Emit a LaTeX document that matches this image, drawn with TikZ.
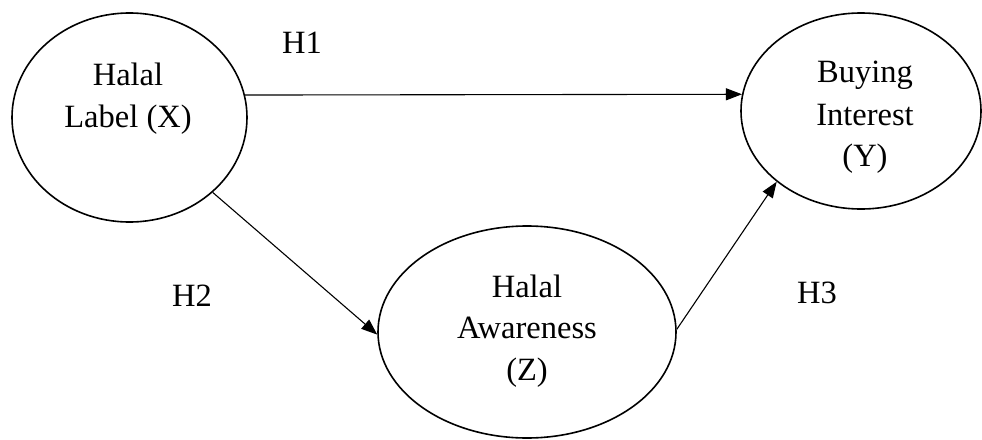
\documentclass[tikz,border=0pt]{standalone}
\usepackage{fontspec}
\setmainfont{Liberation Serif}
\usetikzlibrary{shapes.geometric,arrows.meta}
\tikzset{
  var/.style={draw, ellipse, line width=1.6pt, inner sep=0pt},
  txt/.style={anchor=base, inner sep=0pt, font=\fontsize{32.5}{38}\selectfont},
  path/.style={draw, line width=1.1pt, -{Triangle[length=16pt,width=12pt]}}
}
\begin{document}
\begin{tikzpicture}[x=1pt,y=-1pt]
\useasboundingbox (0,0) rectangle (982,439);
\node[var, minimum width=235pt, minimum height=209pt] (X) at (129.5,117.5) {};
\node[var, minimum width=240pt, minimum height=196pt] (Y) at (861,111) {};
\node[var, minimum width=298pt, minimum height=212pt] (Z) at (527,332) {};
\node[txt] (x1) at (128,85) {Halal};
\node[txt] (x2) at (128,127) {Label (X)};
\node[txt] (y1) at (865,82) {Buying};
\node[txt] (y2) at (865,125) {Interest};
\node[txt] (y3) at (865,166) {(Y)};
\node[txt] (z1) at (527,297) {Halal};
\node[txt] (z2) at (527,338) {Awareness};
\node[txt] (z3) at (527,380) {(Z)};
\node[txt] (h1) at (302,53) {H1};
\node[txt] (h2) at (192,306) {H2};
\node[txt] (h3) at (817,303) {H3};
\draw[path] (X.11.6) -- (Y.172.4);
\draw[path] (X.-42) -- (Z.181);
\draw[path] (Z.1) -- (Y.220);
\end{tikzpicture}
\end{document}
